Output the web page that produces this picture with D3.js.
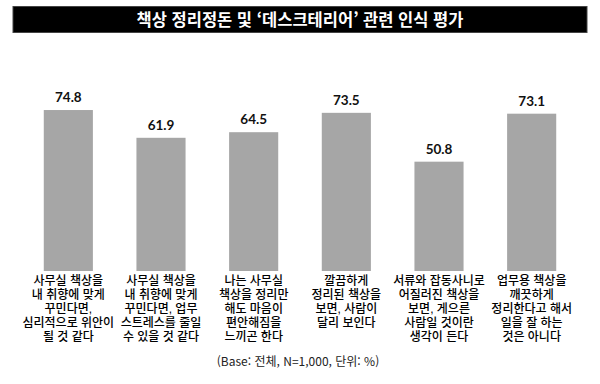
<!DOCTYPE html>
<html lang="ko"><head><meta charset="utf-8">
<script src="https://cdn.jsdelivr.net/npm/d3@7"></script>
<style>body{margin:0;background:#fff;}svg{display:block;}</style>
</head><body><svg id="c" width="600" height="384" lang="ko"></svg>
<script>
const title = "책상 정리정돈 및 ‘데스크테리어’ 관련 인식 평가";
const categories = [
  ["사무실 책상을", "내 취향에 맞게", "꾸민다면,", "심리적으로 위안이", "될 것 같다"],
  ["사무실 책상을", "내 취향에 맞게", "꾸민다면, 업무", "스트레스를 줄일", "수 있을 것 같다"],
  ["나는 사무실", "책상을 정리만", "해도 마음이", "편안해짐을", "느끼곤 한다"],
  ["깔끔하게", "정리된 책상을", "보면, 사람이", "달리 보인다"],
  ["서류와 잡동사니로", "어질러진 책상을", "보면, 게으른", "사람일 것이란", "생각이 든다"],
  ["업무용 책상을", "깨끗하게", "정리한다고 해서", "일을 잘 하는", "것은 아니다"]
];
const values = [74.8, 61.9, 64.5, 73.5, 50.8, 73.1];
const valueLabels = ["74.8", "61.9", "64.5", "73.5", "50.8", "73.1"];
const footnote = "(Base: 전체, N=1,000, 단위: %)";

const svg = d3.select("#c");
const kr = "'Noto Sans CJK KR', sans-serif";
const krTight = "'Liberation Sans', 'Noto Sans CJK KR', sans-serif";

// title bar
svg.append("rect").attr("x", 13).attr("y", 6.5).attr("width", 574).attr("height", 26)
  .attr("fill", "#000").attr("stroke", "#444").attr("stroke-width", 1);
svg.append("text").attr("x", 300).attr("y", 25.5).attr("text-anchor", "middle")
  .attr("fill", "#fff").attr("font-family", kr).attr("font-weight", "bold")
  .attr("font-size", 16.5).text(title);

const x = d3.scaleBand().domain(d3.range(values.length)).range([22, 578]).paddingInner(0.47).paddingOuter(0.235);
const y = d3.scaleLinear().domain([0, 100]).range([271, 55.8]);

const g = svg.append("g");
g.selectAll("rect.bar").data(values).join("rect").attr("class", "bar")
  .attr("x", (d, i) => x(i)).attr("width", x.bandwidth())
  .attr("y", d => y(d)).attr("height", d => y(0) - y(d))
  .attr("fill", "#a6a6a6");

g.selectAll("text.val").data(values).join("text").attr("class", "val")
  .attr("x", (d, i) => x(i) + x.bandwidth() / 2).attr("y", d => y(d) - 8)
  .attr("text-anchor", "middle").attr("font-family", "Lato, 'Open Sans', sans-serif")
  .attr("font-weight", "bold").attr("font-size", 13.5).attr("fill", "#111")
  .text((d, i) => valueLabels[i]);

const labels = g.selectAll("text.cat").data(categories).join("text").attr("class", "cat")
  .attr("x", (d, i) => x(i) + x.bandwidth() / 2).attr("y", 284.5)
  .attr("text-anchor", "middle").attr("font-family", krTight).attr("font-weight", 500)
  .attr("font-size", 12).attr("fill", "#000");
labels.each(function(lines, i) {
  const t = d3.select(this);
  lines.forEach((l, j) => {
    t.append("tspan").attr("x", x(i) + x.bandwidth() / 2).attr("dy", j === 0 ? 0 : 14).text(l);
  });
});

svg.append("text").attr("x", 298).attr("y", 366).attr("text-anchor", "middle")
  .attr("font-family", kr).attr("font-size", 12).attr("fill", "#222").text(footnote);
</script></body></html>
